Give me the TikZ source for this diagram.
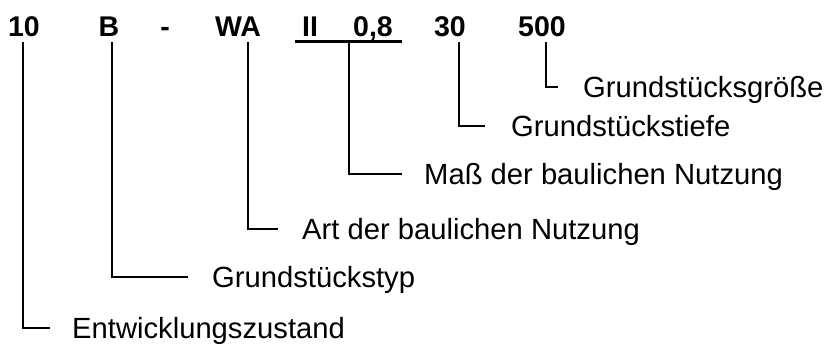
\documentclass[tikz,border=0pt]{standalone}
\usepackage{fontspec}
\setmainfont{Liberation Sans}

\begin{document}
\begin{tikzpicture}[x=1pt,y=-1pt,
  code/.style={font=\bfseries\fontsize{28.5}{28.5}\selectfont,
    inner sep=0pt, anchor=base, text height=21pt, text depth=0pt},
  lbl/.style={font=\fontsize{29.2}{29.2}\selectfont,
    inner sep=0pt, anchor=west, text height=20pt, text depth=0pt},
  leader/.style={line width=1.7pt}]

\useasboundingbox (0,0) rectangle (825,343);

% the code, part by part
\node[code] (c10)   at (24,36)  {10};
\node[code] (cB)    at (109,36) {B};
\node[code] (cdash) at (165,36) {-};
\node[code] (cWA)   at (238,36) {WA};
\node[code] (cII)   at (310,36) {II};
\node[code] (c08)   at (373,36) {0,8};
\node[code] (c30)   at (450,36) {30};
\node[code] (c500)  at (542,36) {500};

% underline grouping the two measures of use
\draw[line width=3pt] ([xshift=-7pt,yshift=-5pt]cII.south west) -- ([xshift=9pt,yshift=-5pt]c08.south east);

% meanings
\node[lbl] (l10)  at (72,328)  {Entwicklungszustand};
\node[lbl] (lB)   at (212,277) {Grundstückstyp};
\node[lbl] (lWA)  at (302,229) {Art der baulichen Nutzung};
\node[lbl] (l08)  at (424,174) {Maß der baulichen Nutzung};
\node[lbl] (l30)  at (511,126) {Grundstückstiefe};
\node[lbl] (l500) at (583,87)  {Grundstücksgröße};

% leaders from each part to its meaning
\draw[leader] ([xshift=-1pt,yshift=-6pt]c10.south)  |- ([xshift=-22pt]l10.west);
\draw[leader] ([xshift=3pt,yshift=-6pt]cB.south)    |- ([xshift=-24pt]lB.west);
\draw[leader] ([xshift=10pt,yshift=-6pt]cWA.south)  |- ([xshift=-24pt]lWA.west);
\draw[leader] ([xshift=-24pt,yshift=-6pt]c08.south) |- ([xshift=-22pt]l08.west);
\draw[leader] ([xshift=9pt,yshift=-6pt]c30.south)   |- ([xshift=-26pt]l30.west);
\draw[leader] ([xshift=4pt,yshift=-6pt]c500.south)  |- ([xshift=-25pt]l500.west);
\end{tikzpicture}
\end{document}
